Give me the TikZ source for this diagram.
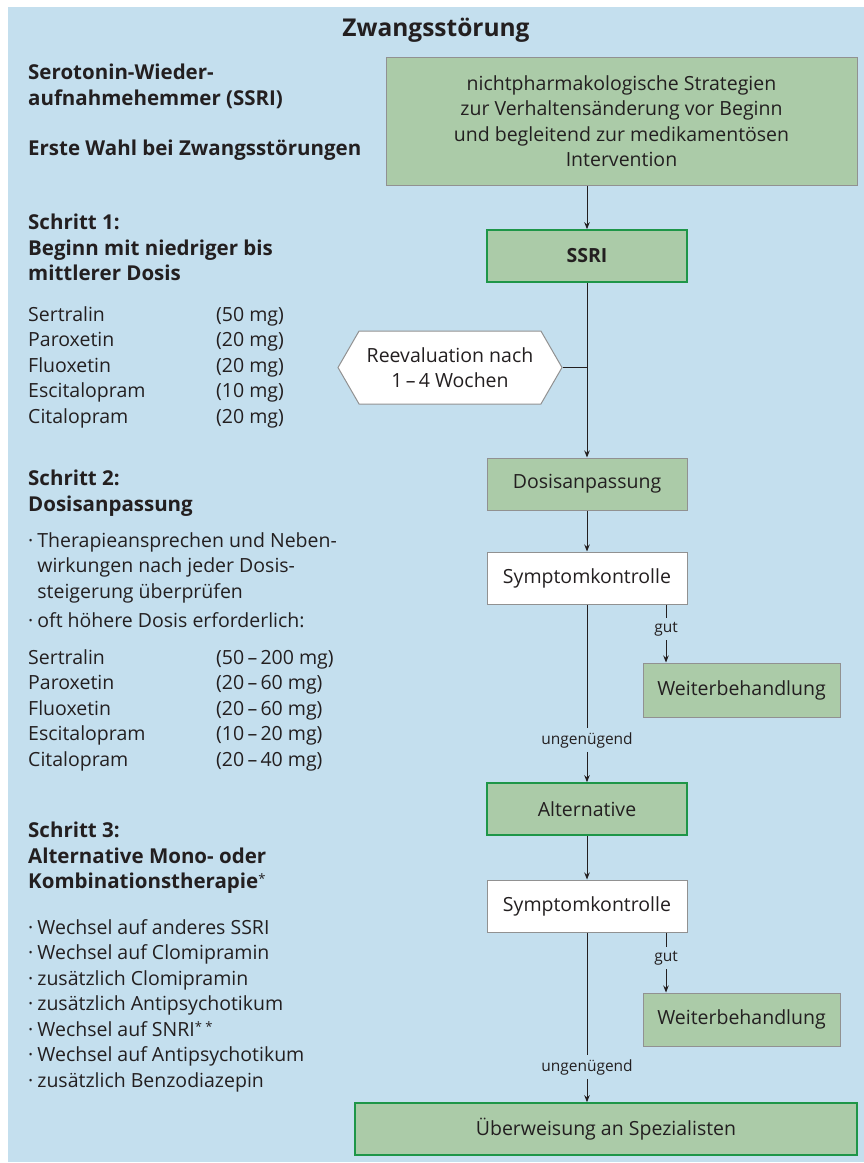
\documentclass[tikz,border=0pt]{standalone}
\usepackage{fontspec}
\setmainfont{Open Sans}
\usetikzlibrary{positioning,arrows.meta,shapes.symbols}
\definecolor{bgblue}{RGB}{196,223,238}
\definecolor{boxgreen}{RGB}{171,203,168}
\definecolor{darkgreen}{RGB}{30,150,72}
\definecolor{boxgray}{RGB}{145,145,145}
\definecolor{txt}{RGB}{35,31,32}
\newcommand{\regfont}{\fontsize{19.5}{25.5}\selectfont}
\newcommand{\headfont}{\fontsize{20.5}{25.5}\selectfont\bfseries}
\newcommand{\smallfont}{\fontsize{15.5}{19}\selectfont}
\newcommand{\titlefont}{\fontsize{24.5}{30}\selectfont\bfseries}
\newcommand{\starmark}{\raisebox{5pt}{\fontsize{13}{13}\selectfont\mdseries *}}

\begin{document}
\begin{tikzpicture}[x=1pt, y=-1pt,
            style = {text=txt},
            box/.style = {draw=boxgray, fill=boxgreen, line width=1pt, minimum width=200pt, minimum height=52pt, inner sep=0pt, font=\regfont, align=center},
            keybox/.style = {box, draw=darkgreen, line width=1.6pt},
            checkbox/.style = {box, fill=white},
            lbl/.style = {font=\smallfont, inner xsep=2pt, inner ysep=4pt},
            info/.style = {anchor=north west, inner sep=0pt, font=\regfont, align=left},
            head/.style = {info, font=\headfont},
            arr/.style = {draw=txt, line width=1pt, -{Stealth[length=7pt, width=5.5pt]}},
            ln/.style = {draw=txt, line width=1pt}]
            \useasboundingbox (0,0) rectangle (864,1163);
            \fill[bgblue] (8,7) rectangle (864,1162);
            \node (title) at (436,30) {\titlefont Zwangsstörung};
            % flow chart, right column
            \node[box, minimum width=471pt, minimum height=128pt] (strat) at (621.5,121) {nichtpharmakologische Strategien\\zur Verhaltensänderung vor Beginn\\und begleitend zur medikamentösen\\Intervention};
            \node[keybox] (ssri) at (587,256) {\bfseries SSRI};
            \node[checkbox, signal, signal to=east and west, signal pointer angle=120, minimum width=224pt, minimum height=73pt] (reeval) at (450,367.5) {Reevaluation nach\\1\,–\,4 Wochen};
            \node[box] (dosis) at (587,484) {Dosisanpassung};
            \node[checkbox] (symp1) at (587,578) {Symptomkontrolle};
            \node[lbl] (gut1) at (666,629) {gut};
            \node[box, minimum width=197pt, minimum height=54pt] (weiter1) at (741.5,690) {Weiterbehandlung};
            \node[lbl] (ung1) at (587,740) {ungenügend};
            \node[keybox] (alt) at (587,809) {Alternative};
            \node[checkbox] (symp2) at (587,906) {Symptomkontrolle};
            \node[lbl] (gut2) at (666,958) {gut};
            \node[box, minimum width=197pt, minimum height=53pt] (weiter2) at (741.5,1019.5) {Weiterbehandlung};
            \node[lbl] (ung2) at (587,1067) {ungenügend};
            \node[keybox, minimum width=502pt] (ueber) at (606,1129) {Überweisung an Spezialisten};
            \draw[arr] (strat.south -| ssri) -- (ssri);
            \draw[arr] (ssri) -- (dosis);
            \coordinate (join) at (reeval.east -| ssri);
            \draw[ln] (reeval.east) -- (join);
            \draw[arr] (dosis) -- (symp1);
            \draw[ln] (symp1.south -| gut1) -- (gut1);
            \draw[arr] (gut1) -- (gut1 |- weiter1.north);
            \draw[ln] (symp1) -- (ung1);
            \draw[arr] (ung1) -- (alt);
            \draw[arr] (alt) -- (symp2);
            \draw[ln] (symp2.south -| gut2) -- (gut2);
            \draw[arr] (gut2) -- (gut2 |- weiter2.north);
            \draw[ln] (symp2) -- (ung2);
            \draw[arr] (ung2) -- (ung2 |- ueber.north);
            % left column
            \node[head] (intro) at (28,64) {Serotonin-Wieder-\\aufnahmehemmer (SSRI)};
            \node[head] (choice) at (28,140) {Erste Wahl bei Zwangsstörungen};
            \node[head] (step1) at (28,214) {Schritt 1:\\Beginn mit niedriger bis\\mittlerer Dosis};
            \node[info] (doses1) at (28,303) {\begin{tabular}{@{}p{188pt}@{}l@{}}
                Sertralin & (50 mg)\\ Paroxetin & (20 mg)\\ Fluoxetin & (20 mg)\\ Escitalopram & (10 mg)\\ Citalopram & (20 mg)
            \end{tabular}};
            \node[head] (step2) at (28,470) {Schritt 2:\\Dosisanpassung};
            \node[info] (hints2) at (28,529) {\begin{tabular}{@{}l@{\hspace{4pt}}l@{}}
                · & Therapieansprechen und Neben-\\ & wirkungen nach jeder Dosis-\\ & steigerung überprüfen
            \end{tabular}};
            \node[info] (more2) at (28,609) {\begin{tabular}{@{}l@{\hspace{4pt}}l@{}}
                · & oft höhere Dosis erforderlich:
            \end{tabular}};
            \node[info] (doses2) at (28,646) {\begin{tabular}{@{}p{188pt}@{}l@{}}
                Sertralin & (50\,–\,200 mg)\\ Paroxetin & (20\,–\,60 mg)\\ Fluoxetin & (20\,–\,60 mg)\\ Escitalopram & (10\,–\,20 mg)\\ Citalopram & (20\,–\,40 mg)
            \end{tabular}};
            \node[head] (step3) at (28,822) {Schritt 3:\\Alternative Mono- oder\\Kombinationstherapie\starmark};
            \node[info] (options3) at (28,916) {\begin{tabular}{@{}l@{\hspace{4pt}}l@{}}
                · & Wechsel auf anderes SSRI\\ · & Wechsel auf Clomipramin\\ · & zusätzlich Clomipramin\\ · & zusätzlich Antipsychotikum\\ · & Wechsel auf SNRI\starmark\,\starmark\\ · & Wechsel auf Antipsychotikum\\ · & zusätzlich Benzodiazepin
            \end{tabular}};
\end{tikzpicture}
\end{document}
